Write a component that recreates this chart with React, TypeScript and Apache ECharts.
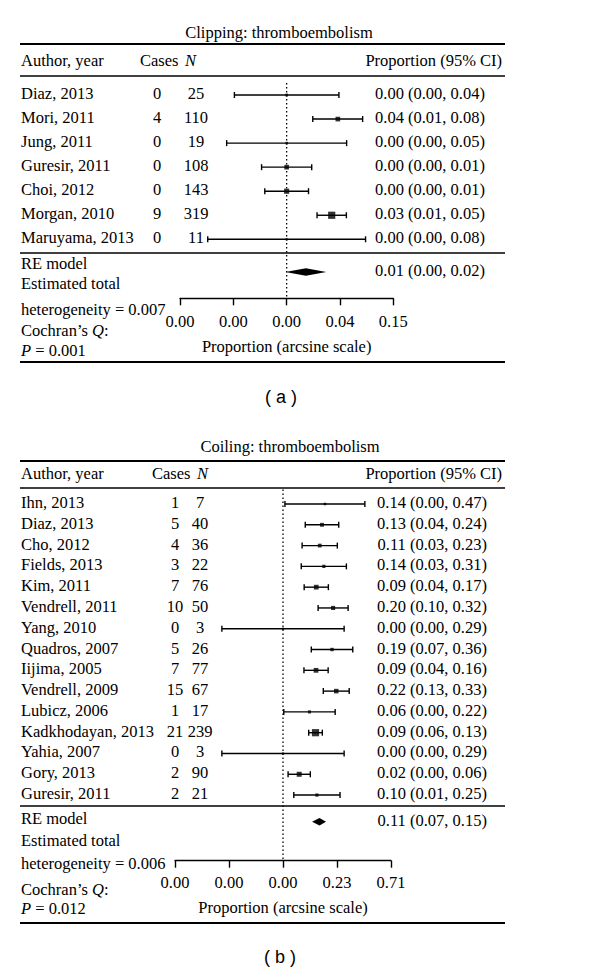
import React, { useEffect, useRef } from "react";
import * as echarts from "echarts";

// ---------- Panel (a): Clipping ----------
const clipAuthors = ["Diaz, 2013", "Mori, 2011", "Jung, 2011", "Guresir, 2011", "Choi, 2012", "Morgan, 2010", "Maruyama, 2013"];
const clipCases = [0, 4, 0, 0, 0, 9, 0];
const clipN = [25, 110, 19, 108, 143, 319, 11];
const clipProp = [0.0, 0.04, 0.0, 0.0, 0.0, 0.03, 0.0];
const clipPropLo = [0.0, 0.01, 0.0, 0.0, 0.0, 0.01, 0.0];
const clipPropHi = [0.04, 0.08, 0.05, 0.01, 0.01, 0.05, 0.08];
// positions on the arcsine scale (as drawn)
const clipEst = [0, 0.192, 0, 0, 0, 0.169, 0];
const clipLo = [-0.196, 0.098, -0.225, -0.094, -0.082, 0.114, -0.296];
const clipHi = [0.196, 0.285, 0.225, 0.094, 0.082, 0.224, 0.296];
const clipRE = [-0.005, 0.072, 0.149]; // lo, est, hi (arcsine)
const clipREProp = [0.01, 0.0, 0.02];
const clipTicks = [-0.4, -0.2, 0, 0.2, 0.4];
const clipTickLabels = ["0.00", "0.00", "0.00", "0.04", "0.15"];
const clipHet = "0.007";
const clipP = "0.001";

// ---------- Panel (b): Coiling ----------
const coilAuthors = ["Ihn, 2013", "Diaz, 2013", "Cho, 2012", "Fields, 2013", "Kim, 2011", "Vendrell, 2011", "Yang, 2010", "Quadros, 2007", "Iijima, 2005", "Vendrell, 2009", "Lubicz, 2006", "Kadkhodayan, 2013", "Yahia, 2007", "Gory, 2013", "Guresir, 2011"];
const coilCases = [1, 5, 4, 3, 7, 10, 0, 5, 7, 15, 1, 21, 0, 2, 2];
const coilN = [7, 40, 36, 22, 76, 50, 3, 26, 77, 67, 17, 239, 3, 90, 21];
const coilProp = [0.14, 0.13, 0.11, 0.14, 0.09, 0.2, 0.0, 0.19, 0.09, 0.22, 0.06, 0.09, 0.0, 0.02, 0.1];
const coilPropLo = [0.0, 0.04, 0.03, 0.03, 0.04, 0.1, 0.0, 0.07, 0.04, 0.13, 0.0, 0.06, 0.0, 0.0, 0.01];
const coilPropHi = [0.47, 0.24, 0.23, 0.31, 0.17, 0.32, 0.29, 0.36, 0.16, 0.33, 0.22, 0.13, 0.29, 0.06, 0.25];
const coilEst = [0.388, 0.361, 0.34, 0.378, 0.308, 0.464, 0, 0.454, 0.306, 0.493, 0.245, 0.301, 0, 0.15, 0.314];
const coilLo = [0.018, 0.206, 0.177, 0.169, 0.196, 0.325, -0.566, 0.262, 0.194, 0.373, 0.007, 0.238, -0.566, 0.047, 0.1];
const coilHi = [0.758, 0.516, 0.503, 0.587, 0.42, 0.603, 0.566, 0.646, 0.418, 0.613, 0.483, 0.364, 0.566, 0.253, 0.528];
const coilRE = [0.269, 0.338, 0.398];
const coilREProp = [0.11, 0.07, 0.15];
const coilTicks = [-1, -0.5, 0, 0.5, 1];
const coilTickLabels = ["0.00", "0.00", "0.00", "0.23", "0.71"];
const coilHet = "0.006";
const coilP = "0.012";

const SERIF = '"Liberation Serif", "Times New Roman", serif';
const SANS = '"Liberation Sans", Arial, sans-serif';
const INK = "#000";
const FS = 16.5;

function ciText(p: number, lo: number, hi: number) {
  return `${p.toFixed(2)} (${lo.toFixed(2)}, ${hi.toFixed(2)})`;
}

function txt(x: number, y: number, text: string, align = "left", extra: any = {}) {
  return {
    type: "text",
    x,
    y,
    style: { text, fill: INK, fontFamily: SERIF, fontSize: FS, align, verticalAlign: "middle", ...extra },
  };
}

function richTxt(x: number, y: number, text: string) {
  return {
    type: "text",
    x,
    y,
    style: {
      text,
      verticalAlign: "middle",
      align: "left",
      fill: INK,
      fontFamily: SERIF,
      fontSize: FS,
      rich: {
        r: { fill: INK, fontFamily: SERIF, fontSize: FS },
        i: { fill: INK, fontFamily: SERIF, fontSize: FS, fontStyle: "italic" },
      },
    },
  };
}

function hline(x1: number, x2: number, y: number, w: number) {
  return { type: "line", shape: { x1, y1: y, x2, y2: y }, style: { stroke: INK, lineWidth: w } };
}

interface PanelCfg {
  idx: number;
  authors: string[];
  cases: number[];
  ns: number[];
  prop: number[];
  propLo: number[];
  propHi: number[];
  est: number[];
  lo: number[];
  hi: number[];
  re: number[];
  reProp: number[];
  reRow: number;
  yMin: number;
  yMax: number;
  authorX: number;
  casesX: number;
  nX: number;
  ciX: number;
  textDy: number;
}

function panelSeries(c: PanelCfg) {
  const roots = c.ns.map((n) => Math.sqrt(n));
  const minR = Math.min(...roots);
  const maxR = Math.max(...roots);
  const sizeOf = (n: number) => 2.2 + 5 * ((Math.sqrt(n) - minR) / (maxR - minR));
  const common = { xAxisIndex: c.idx, yAxisIndex: c.idx, silent: true };
  return [
    {
      ...common,
      type: "line",
      data: [
        [0, c.yMin],
        [0, c.yMax],
      ],
      symbol: "none",
      lineStyle: { type: [1.5, 2.5], color: INK, width: 1.3 },
      z: 1,
    },
    {
      ...common,
      type: "custom",
      data: c.lo.map((l, i) => [l, c.hi[i], i]),
      encode: { x: [0, 1], y: 2 },
      renderItem: (params: any, api: any) => {
        const a = api.coord([api.value(0), api.value(2)]);
        const b = api.coord([api.value(1), api.value(2)]);
        const st = { stroke: INK, lineWidth: 1.4 };
        const h = 3;
        return {
          type: "group",
          children: [
            { type: "line", shape: { x1: a[0], y1: a[1], x2: b[0], y2: b[1] }, style: st },
            { type: "line", shape: { x1: a[0], y1: a[1] - h, x2: a[0], y2: a[1] + h }, style: st },
            { type: "line", shape: { x1: b[0], y1: b[1] - h, x2: b[0], y2: b[1] + h }, style: st },
          ],
        };
      },
      z: 2,
    },
    {
      ...common,
      type: "scatter",
      data: c.est.map((e, i) => ({ value: [e, i], symbolSize: sizeOf(c.ns[i]) })),
      symbol: "rect",
      itemStyle: { color: INK },
      z: 3,
    },
    {
      ...common,
      type: "custom",
      data: c.authors.map((_, i) => [0, i]),
      encode: { x: 0, y: 1 },
      renderItem: (params: any, api: any) => {
        const i = params.dataIndex;
        const y = api.coord([0, api.value(1)])[1] + c.textDy;
        return {
          type: "group",
          children: [
            txt(c.authorX, y, c.authors[i], "left"),
            txt(c.casesX, y, String(c.cases[i]), "center"),
            txt(c.nX, y, String(c.ns[i]), "center"),
            txt(c.ciX, y, ciText(c.prop[i], c.propLo[i], c.propHi[i]), "right"),
          ],
        };
      },
    },
    {
      ...common,
      type: "custom",
      data: [[c.re[0], c.re[1], c.re[2], c.reRow]],
      encode: { x: [0, 1, 2], y: 3 },
      renderItem: (params: any, api: any) => {
        const row = api.value(3);
        const l = api.coord([api.value(0), row]);
        const m = api.coord([api.value(1), row]);
        const r = api.coord([api.value(2), row]);
        const h = 3.8;
        return {
          type: "group",
          children: [
            {
              type: "polygon",
              shape: { points: [[l[0], l[1]], [m[0], m[1] - h], [r[0], r[1]], [m[0], m[1] + h]] },
              style: { fill: INK },
            },
            txt(c.ciX, m[1] + c.textDy, ciText(c.reProp[0], c.reProp[1], c.reProp[2]), "right"),
          ],
        };
      },
    },
  ];
}

function xAxisCfg(idx: number, ticks: number[], labels: string[], margin: number, nameGap: number) {
  const interval = ticks[1] - ticks[0];
  return {
    gridIndex: idx,
    type: "value",
    min: ticks[0],
    max: ticks[ticks.length - 1],
    interval,
    axisLine: { show: true, onZero: false, lineStyle: { color: INK, width: 1.4 } },
    axisTick: { show: true, length: 7, lineStyle: { color: INK, width: 1.4 } },
    splitLine: { show: false },
    axisLabel: {
      color: INK,
      fontFamily: SERIF,
      fontSize: FS,
      margin,
      hideOverlap: false,
      formatter: (v: number) => {
        const k = Math.round((v - ticks[0]) / interval);
        return labels[k] ?? "";
      },
    },
    name: "Proportion (arcsine scale)",
    nameLocation: "middle",
    nameGap,
    nameTextStyle: { color: INK, fontFamily: SERIF, fontSize: FS },
  };
}

export default function App() {
  const ref = useRef<HTMLDivElement>(null);
  useEffect(() => {
    if (!ref.current) return;
    const chart = echarts.init(ref.current, undefined, { renderer: "svg" });

    const topCfg: PanelCfg = {
      idx: 0,
      authors: clipAuthors,
      cases: clipCases,
      ns: clipN,
      prop: clipProp,
      propLo: clipPropLo,
      propHi: clipPropHi,
      est: clipEst,
      lo: clipLo,
      hi: clipHi,
      re: clipRE,
      reProp: clipREProp,
      reRow: 7.36,
      yMin: -0.5,
      yMax: 8.453,
      authorX: 21,
      casesX: 157,
      nX: 196,
      ciX: 485,
      textDy: -1.5,
    };
    const botCfg: PanelCfg = {
      idx: 1,
      authors: coilAuthors,
      cases: coilCases,
      ns: coilN,
      prop: coilProp,
      propLo: coilPropLo,
      propHi: coilPropHi,
      est: coilEst,
      lo: coilLo,
      hi: coilHi,
      re: coilRE,
      reProp: coilREProp,
      reRow: 15.28,
      yMin: -0.7,
      yMax: 17.157,
      authorX: 21,
      casesX: 175,
      nX: 200,
      ciX: 487,
      textDy: -1.5,
    };

    const graphics: any[] = [
      // panel (a)
      txt(279, 32, "Clipping: thromboembolism", "center"),
      hline(20, 505, 44, 2.2),
      txt(21, 60, "Author, year"),
      txt(140, 60, "Cases"),
      txt(185, 60, "N", "left", { fontStyle: "italic" }),
      txt(502, 60, "Proportion (95% CI)", "right"),
      hline(20, 505, 76, 1.5),
      hline(20, 505, 253, 1.5),
      txt(21, 263, "RE model"),
      txt(21, 283, "Estimated total"),
      txt(21, 309, `heterogeneity = ${clipHet}`),
      richTxt(21, 330, "{r|Cochran’s }{i|Q}{r|:}"),
      richTxt(21, 350, `{i|P}{r| = ${clipP}}`),
      hline(20, 505, 362, 1.8),
      { type: "text", x: 281, y: 397, style: { text: "( a )", fill: INK, fontFamily: SANS, fontSize: 18, align: "center", verticalAlign: "middle" } },
      // panel (b)
      txt(290, 446, "Coiling: thromboembolism", "center"),
      hline(20, 505, 461, 2.2),
      txt(21, 473, "Author, year"),
      txt(152, 473, "Cases"),
      txt(197, 473, "N", "left", { fontStyle: "italic" }),
      txt(502, 473, "Proportion (95% CI)", "right"),
      hline(20, 505, 488, 1.5),
      hline(20, 505, 806, 1.5),
      txt(21, 818, "RE model"),
      txt(21, 840, "Estimated total"),
      txt(21, 863, `heterogeneity = ${coilHet}`),
      richTxt(21, 889, "{r|Cochran’s }{i|Q}{r|:}"),
      richTxt(21, 908, `{i|P}{r| = ${coilP}}`),
      hline(20, 505, 923, 1.8),
      { type: "text", x: 280, y: 957, style: { text: "( b )", fill: INK, fontFamily: SANS, fontSize: 18, align: "center", verticalAlign: "middle" } },
    ];

    chart.setOption({
      animation: false,
      backgroundColor: "#fff",
      grid: [
        { left: 180, width: 213.3, top: 83, height: 215.3 },
        { left: 175, width: 216, top: 489.45, height: 371.25 },
      ],
      xAxis: [xAxisCfg(0, clipTicks, clipTickLabels, 15, 40), xAxisCfg(1, coilTicks, coilTickLabels, 13, 38)],
      yAxis: [
        { gridIndex: 0, type: "value", min: topCfg.yMin, max: topCfg.yMax, inverse: true, show: false },
        { gridIndex: 1, type: "value", min: botCfg.yMin, max: botCfg.yMax, inverse: true, show: false },
      ],
      series: [...panelSeries(topCfg), ...panelSeries(botCfg)],
      graphic: graphics,
    });
    return () => chart.dispose();
  }, []);
  return <div ref={ref} style={{ position: "absolute", left: 0, top: 0, width: 600, height: 974 }} />;
}
